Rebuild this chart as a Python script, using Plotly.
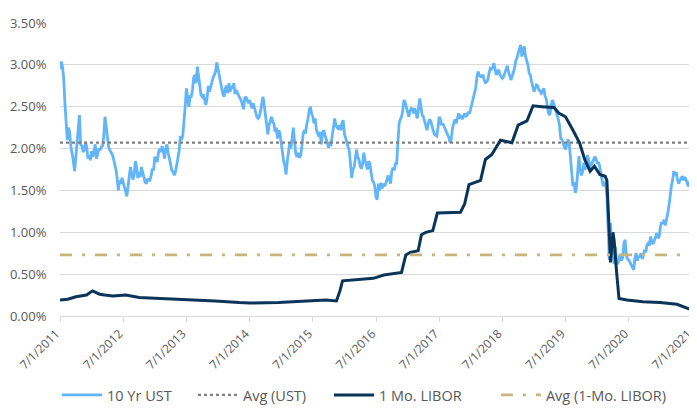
import pandas as pd
import plotly.graph_objects as go

# ---------------- DATA ----------------
# 10 Yr UST yield (%), weekly readings, Jul -> Jun each block
ust_2011_12 = [2.95, 3.04, 2.98, 2.85,
               2.55, 2.31, 2.10, 2.25, 2.19,
               2.02, 1.95, 1.85, 1.73,
               1.90, 2.10, 2.26, 2.40,
               2.05, 2.03, 1.96, 1.98, 2.08,
               2.02, 1.88, 1.92, 1.86,
               1.97, 1.90, 2.00, 2.05, 1.88,
               1.95, 2.00, 1.98, 2.02,
               2.03, 2.15, 2.38, 2.25,
               2.20, 2.02, 1.98, 1.96, 1.93,
               1.88, 1.82, 1.75, 1.65,
               1.50, 1.62, 1.58, 1.65]
ust_2012_13 = [1.60, 1.52, 1.47, 1.43,
               1.55, 1.65, 1.78, 1.70, 1.63,
               1.68, 1.85, 1.78, 1.65,
               1.72, 1.66, 1.78, 1.72,
               1.68, 1.60, 1.58, 1.64, 1.62,
               1.62, 1.68, 1.76, 1.74,
               1.90, 1.87, 1.84, 1.95, 2.00,
               1.96, 2.03, 1.98, 1.88,
               2.00, 2.05, 1.95, 1.87,
               1.80, 1.74, 1.72, 1.68, 1.72,
               1.80, 1.92, 1.97, 2.15,
               2.10, 2.15, 2.40, 2.50]
ust_2013_14 = [2.72, 2.58, 2.50, 2.62,
               2.62, 2.70, 2.85, 2.88, 2.78,
               2.98, 2.88, 2.73, 2.64,
               2.62, 2.65, 2.58, 2.52,
               2.60, 2.75, 2.68, 2.74, 2.78,
               2.85, 2.88, 2.92, 3.03,
               2.95, 2.85, 2.78, 2.72, 2.65,
               2.62, 2.72, 2.75, 2.66,
               2.78, 2.68, 2.75, 2.72,
               2.78, 2.65, 2.70, 2.66, 2.64,
               2.60, 2.58, 2.52, 2.47,
               2.60, 2.62, 2.58, 2.54]
ust_2014_15 = [2.58, 2.52, 2.48, 2.54,
               2.48, 2.42, 2.38, 2.36, 2.38,
               2.45, 2.55, 2.62, 2.52,
               2.42, 2.30, 2.17, 2.28,
               2.35, 2.38, 2.32, 2.30, 2.20,
               2.25, 2.12, 2.22, 2.18,
               2.05, 1.98, 1.85, 1.80, 1.69,
               1.85, 2.00, 2.07, 2.00,
               2.12, 2.25, 2.08, 1.94,
               1.90, 1.95, 1.89, 1.92, 2.02,
               2.17, 2.22, 2.18, 2.29,
               2.35, 2.45, 2.50, 2.42]
ust_2015_16 = [2.38, 2.30, 2.36, 2.22,
               2.18, 2.14, 2.20, 2.05, 2.18,
               2.22, 2.16, 2.12, 2.07,
               2.01, 2.06, 2.05, 2.15,
               2.25, 2.36, 2.28, 2.25, 2.23,
               2.28, 2.22, 2.30, 2.34,
               2.18, 2.12, 2.05, 2.02, 1.98,
               1.85, 1.65, 1.75, 1.78,
               1.88, 1.99, 1.90, 1.87,
               1.79, 1.76, 1.82, 1.95, 1.86,
               1.78, 1.75, 1.85, 1.82,
               1.71, 1.62, 1.60, 1.55]
ust_2016_17 = [1.42, 1.39, 1.58, 1.50,
               1.59, 1.52, 1.58, 1.55, 1.58,
               1.62, 1.68, 1.63, 1.58,
               1.73, 1.77, 1.74, 1.82,
               1.82, 2.15, 2.30, 2.35, 2.38,
               2.45, 2.58, 2.55, 2.48,
               2.42, 2.38, 2.45, 2.48, 2.47,
               2.42, 2.48, 2.40, 2.36,
               2.48, 2.60, 2.50, 2.40,
               2.38, 2.32, 2.25, 2.22, 2.30,
               2.35, 2.33, 2.25, 2.22,
               2.17, 2.16, 2.15, 2.25]
ust_2017_18 = [2.38, 2.35, 2.28, 2.30,
               2.27, 2.22, 2.20, 2.18, 2.13,
               2.07, 2.12, 2.25, 2.32,
               2.35, 2.30, 2.38, 2.42,
               2.36, 2.40, 2.35, 2.38, 2.42,
               2.38, 2.40, 2.44, 2.42,
               2.48, 2.54, 2.62, 2.66, 2.72,
               2.85, 2.92, 2.88, 2.86,
               2.86, 2.88, 2.82, 2.78,
               2.80, 2.82, 2.90, 2.96, 2.95,
               2.97, 3.02, 2.95, 2.88,
               2.92, 2.94, 2.88, 2.86]
ust_2018_19 = [2.84, 2.86, 2.90, 2.95,
               2.99, 2.92, 2.88, 2.82, 2.86,
               2.90, 2.96, 3.05, 3.08,
               3.14, 3.20, 3.24, 3.10,
               3.15, 3.22, 3.10, 3.05, 3.00,
               2.90, 2.88, 2.80, 2.74,
               2.68, 2.72, 2.76, 2.75, 2.70,
               2.69, 2.66, 2.68, 2.72,
               2.63, 2.60, 2.50, 2.42,
               2.40, 2.52, 2.58, 2.55, 2.50,
               2.48, 2.42, 2.35, 2.28,
               2.12, 2.11, 2.05, 2.02]
ust_2019_20 = [1.99, 2.05, 2.11, 2.06,
               1.91, 1.72, 1.55, 1.60, 1.47,
               1.55, 1.75, 1.91, 1.75,
               1.68, 1.72, 1.83, 1.75,
               1.80, 1.92, 1.87, 1.77, 1.80,
               1.84, 1.88, 1.90, 1.88,
               1.82, 1.84, 1.79, 1.70, 1.60,
               1.55, 1.60, 1.58, 1.43,
               1.07, 0.67, 1.11, 0.80,
               0.75, 0.62, 0.83, 0.65, 0.62,
               0.70, 0.74, 0.66, 0.70,
               0.87, 0.91, 0.72, 0.68]
ust_2020_21 = [0.67, 0.64, 0.60, 0.58,
               0.55, 0.68, 0.75, 0.66, 0.72,
               0.70, 0.75, 0.68, 0.72,
               0.79, 0.76, 0.85, 0.87,
               0.84, 0.95, 0.88, 0.86, 0.90,
               0.95, 0.99, 0.93, 0.95,
               1.07, 1.12, 1.10, 1.15, 1.08,
               1.18, 1.22, 1.31, 1.45,
               1.55, 1.62, 1.73, 1.68,
               1.72, 1.63, 1.58, 1.62, 1.65,
               1.67, 1.62, 1.66, 1.63,
               1.59, 1.55, 1.61, 1.48,
               1.31]

# 1 Mo. LIBOR (%)
libor_dates = ["2011-07-01", "2011-08-15", "2011-10-01", "2011-12-01", "2012-01-05",
               "2012-02-15", "2012-03-15", "2012-05-01", "2012-07-15", "2012-10-01",
               "2013-02-01", "2013-07-01", "2013-12-15", "2014-05-01", "2014-07-01",
               "2014-12-15", "2015-03-01", "2015-07-01", "2015-09-15", "2015-11-15",
               "2015-12-05", "2015-12-20", "2016-04-15", "2016-06-15", "2016-08-15",
               "2016-10-15", "2016-11-25", "2016-12-20", "2017-01-15", "2017-03-01",
               "2017-03-20", "2017-04-15", "2017-05-25", "2017-06-20", "2017-11-01",
               "2017-11-25", "2017-12-20", "2018-02-25", "2018-03-25", "2018-05-01",
               "2018-06-20", "2018-08-25", "2018-09-30", "2018-11-20", "2018-12-25",
               "2019-02-15", "2019-04-25", "2019-05-25", "2019-07-01", "2019-08-10",
               "2019-09-20", "2019-10-20", "2019-11-20", "2019-12-15", "2020-01-15",
               "2020-02-15", "2020-02-25", "2020-03-10", "2020-03-17", "2020-03-31",
               "2020-04-07", "2020-04-20", "2020-05-05", "2020-06-20", "2020-09-20",
               "2020-12-28", "2021-04-05", "2021-06-20", "2021-07-01"]
libor_vals = [0.19, 0.20, 0.23, 0.25, 0.30,
              0.26, 0.25, 0.24, 0.25, 0.22,
              0.21, 0.20, 0.18, 0.16, 0.155,
              0.16, 0.17, 0.18, 0.19, 0.18,
              0.30, 0.42, 0.44, 0.45, 0.49,
              0.51, 0.52, 0.73, 0.76, 0.78,
              0.97, 1.00, 1.02, 1.23, 1.24,
              1.34, 1.57, 1.62, 1.87, 1.93,
              2.10, 2.07, 2.28, 2.33, 2.51,
              2.50, 2.49, 2.42, 2.38, 2.23,
              2.07, 1.87, 1.73, 1.79, 1.69,
              1.67, 1.62, 0.99, 0.64, 1.00,
              0.90, 0.55, 0.21, 0.19, 0.17,
              0.16, 0.14, 0.08, 0.10]

avg_ust = [2.07]
avg_libor = [0.73]

x_start, x_end = "2011-07-01", "2021-07-01"
tick_dates = [f"{y}-07-01" for y in range(2011, 2022)]
tick_labels = [f"7/1/{y}" for y in range(2011, 2022)]
y_ticks = [0, 0.5, 1.0, 1.5, 2.0, 2.5, 3.0, 3.5]
y_labels = ["0.00%", "0.50%", "1.00%", "1.50%", "2.00%", "2.50%", "3.00%", "3.50%"]

# ---------------- FIGURE ----------------
ust = (ust_2011_12 + ust_2012_13 + ust_2013_14 + ust_2014_15 + ust_2015_16 +
       ust_2016_17 + ust_2017_18 + ust_2018_19 + ust_2019_20 + ust_2020_21)
ust_dates = pd.date_range(x_start, x_end, periods=len(ust))

fig = go.Figure()
fig.add_trace(go.Scatter(x=ust_dates, y=ust, mode="lines", name="10 Yr UST",
                         line=dict(color="#62B5F8", width=2.8)))
fig.add_trace(go.Scatter(x=[x_start, x_end], y=avg_ust * 2, mode="lines", name="Avg (UST)",
                         line=dict(color="#7F7F7F", width=2.2, dash="dot")))
fig.add_trace(go.Scatter(x=pd.to_datetime(libor_dates), y=libor_vals, mode="lines",
                         name="1 Mo. LIBOR", line=dict(color="#0B3459", width=3)))
fig.add_trace(go.Scatter(x=[x_start, x_end], y=avg_libor * 2, mode="lines",
                         name="Avg (1-Mo. LIBOR)", legend="legend2",
                         line=dict(color="#C9B57C", width=2.6, dash="12px,10px,3px,10px")))

font_family = "'Open Sans', Lato, sans-serif"
legend_font = dict(size=14.5, color="#595959")
fig.update_layout(
    template="none",
    width=697, height=415,
    autosize=False,
    margin=dict(l=52, r=13, t=15, b=107, autoexpand=False),
    plot_bgcolor="white", paper_bgcolor="white",
    font=dict(family=font_family, color="#595959", size=13),
    showlegend=True,
    legend=dict(orientation="h", xref="container", yref="container",
                x=0.0703, xanchor="left", y=0.0675, yanchor="middle",
                font=legend_font, itemwidth=40,
                entrywidth=81, entrywidthmode="pixels",
                bgcolor="rgba(0,0,0,0)"),
    legend2=dict(orientation="h", xref="container", yref="container",
                 x=0.70, xanchor="left", y=0.0675, yanchor="middle",
                 font=legend_font, itemwidth=40,
                 bgcolor="rgba(0,0,0,0)"),
    xaxis=dict(type="date", range=[x_start, x_end], tickmode="array",
               tickvals=tick_dates, ticktext=tick_labels, automargin=False,
               tickangle=-45, ticks="outside", ticklen=5, tickcolor="#D9D9D9",
               ticklabelshift=-4,
               showgrid=False, showline=True, linecolor="#D9D9D9", linewidth=1,
               tickfont=dict(size=12, color="#595959"), zeroline=False),
    yaxis=dict(range=[0, 3.5], tickmode="array", tickvals=y_ticks, ticktext=y_labels,
               automargin=False, ticks="outside", ticklen=10, tickcolor="rgba(0,0,0,0)",
               showgrid=True, gridcolor="#D9D9D9", gridwidth=1, zeroline=False,
               showline=False, tickfont=dict(size=13, color="#595959")),
)

fig.write_html("out.html")
